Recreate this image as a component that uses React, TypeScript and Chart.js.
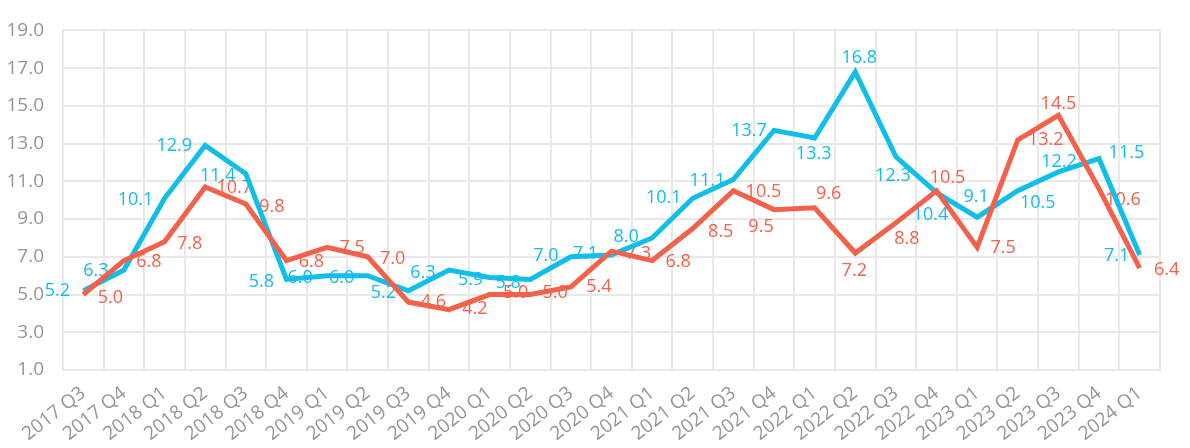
import React, { useEffect, useRef } from 'react';
import { Chart, registerables } from 'chart.js';

Chart.register(...registerables);

const categories = [
  '2017 Q3', '2017 Q4',
  '2018 Q1', '2018 Q2', '2018 Q3', '2018 Q4',
  '2019 Q1', '2019 Q2', '2019 Q3', '2019 Q4',
  '2020 Q1', '2020 Q2', '2020 Q3', '2020 Q4',
  '2021 Q1', '2021 Q2', '2021 Q3', '2021 Q4',
  '2022 Q1', '2022 Q2', '2022 Q3', '2022 Q4',
  '2023 Q1', '2023 Q2', '2023 Q3', '2023 Q4',
  '2024 Q1',
];

const cyanSeries = [
  5.2, 6.3, 10.1, 12.9, 11.4, 5.8, 6.0, 6.0, 5.2, 6.3, 5.9, 5.8, 7.0, 7.1,
  8.0, 10.1, 11.1, 13.7, 13.3, 16.8, 12.3, 10.4, 9.1, 10.5, 11.5, 12.2, 7.1,
];

const redSeries = [
  5.0, 6.8, 7.8, 10.7, 9.8, 6.8, 7.5, 7.0, 4.6, 4.2, 5.0, 5.0, 5.4, 7.3,
  6.8, 8.5, 10.5, 9.5, 9.6, 7.2, 8.8, 10.5, 7.5, 13.2, 14.5, 10.6, 6.4,
];

const yMin = 1;
const yMax = 19;
const yStep = 2;

// label placement (pixel nudges relative to each point), style only
const cyanLabelOffsets: [number, number][] = [
  [-26, 0], [-28, 1], [-29, 2], [-31, 0], [-28, 2], [-25, 2], [-27, 2], [-26, 2],
  [-25, 2], [-26, 3], [-19, 2], [-22, 3], [-25, -1], [-26, -1], [-26, -1], [-29, 0],
  [-26, 1], [-25, 0], [-1, 16], [4, -14], [-3, 19], [-6, 22], [-1, -20], [20, 12],
  [68, -19], [-40, 3], [-23, 1],
];

const redLabelOffsets: [number, number][] = [
  [27, 3], [25, 1], [25, 2], [29, 1], [26, 3], [25, 1], [25, 1], [25, 2],
  [25, 0], [26, -1], [26, -2], [25, -2], [28, 0], [27, 3], [26, 1], [28, 3],
  [30, 1], [-13, 17], [14, -14], [-1, 18], [11, 16], [11, -13], [26, 1], [28, 0],
  [0, -11], [24, 11], [27, 2],
];

const CYAN = '#0FBEEA';
const RED = '#F4614B';
const GRID = '#E8E8E8';
const TICK = '#959595';
const FONT = "'Open Sans', 'DejaVu Sans', sans-serif";

const labelOffsetsByDataset = [cyanLabelOffsets, redLabelOffsets];

const valueLabels = {
  id: 'valueLabels',
  beforeDatasetsDraw(chart: any) {
    const ctx = chart.ctx;
    ctx.save();
    ctx.font = `18px ${FONT}`;
    ctx.textAlign = 'center';
    ctx.textBaseline = 'middle';
    chart.data.datasets.forEach((ds: any, di: number) => {
      const meta = chart.getDatasetMeta(di);
      const offsets = labelOffsetsByDataset[di];
      ctx.fillStyle = ds.borderColor;
      meta.data.forEach((pt: any, i: number) => {
        const v = ds.data[i] as number;
        const [dx, dy] = offsets[i] || [0, 0];
        ctx.fillText(v.toFixed(1), pt.x + dx, pt.y + dy);
      });
    });
    ctx.restore();
  },
};

export default function App() {
  const canvasRef = useRef<HTMLCanvasElement | null>(null);

  useEffect(() => {
    if (!canvasRef.current) return;
    const chart = new Chart(canvasRef.current, {
      type: 'line',
      data: {
        labels: categories,
        datasets: [
          {
            label: 'cyan',
            data: cyanSeries,
            borderColor: CYAN,
            backgroundColor: CYAN,
            borderWidth: 5,
            pointRadius: 0,
            tension: 0,
            order: 1,
          },
          {
            label: 'red',
            data: redSeries,
            borderColor: RED,
            backgroundColor: RED,
            borderWidth: 5,
            pointRadius: 0,
            tension: 0,
            order: 0,
          },
        ],
      },
      options: {
        animation: false,
        responsive: false,
        events: [],
        layout: { padding: { top: 21, right: 30, left: 0, bottom: 0 } },
        plugins: {
          legend: { display: false },
          tooltip: { enabled: false },
        },
        scales: {
          x: {
            type: 'category',
            offset: true,
            grid: { offset: true, color: GRID, lineWidth: 2, drawTicks: false },
            border: { color: GRID, width: 2 },
            ticks: {
              color: TICK,
              font: { family: FONT, size: 19 },
              minRotation: 38,
              maxRotation: 38,
              padding: 12,
              autoSkip: false,
            },
            afterFit: (s: any) => {
              s.height = 78;
            },
          },
          y: {
            min: yMin,
            max: yMax,
            grid: { color: GRID, lineWidth: 2, drawTicks: false },
            border: { color: GRID, width: 2 },
            ticks: {
              stepSize: yStep,
              color: TICK,
              font: { family: FONT, size: 19 },
              padding: 19,
              callback: (v: any) => Number(v).toFixed(1),
            },
            afterFit: (s: any) => {
              s.width = 63;
            },
          },
        },
      },
      plugins: [valueLabels],
    });
    return () => chart.destroy();
  }, []);

  return (
    <div style={{ position: 'absolute', left: 0, top: 0, width: 1190, height: 448, background: '#fff' }}>
      <canvas ref={canvasRef} width={1190} height={448} style={{ display: 'block' }} />
    </div>
  );
}
